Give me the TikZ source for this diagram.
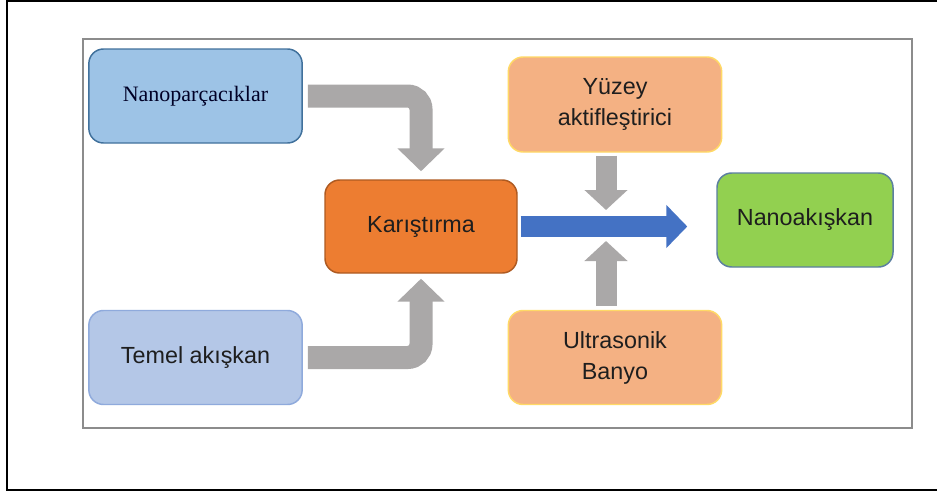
\documentclass[tikz,border=0pt]{standalone}
\usepackage{fontspec}
\setmainfont{Liberation Sans}
\newfontfamily\npfont{Liberation Serif}
\usetikzlibrary{arrows.meta}

\definecolor{npblue}{RGB}{157,195,230}
\definecolor{npline}{RGB}{65,113,156}
\definecolor{tbblue}{RGB}{180,199,231}
\definecolor{tbline}{RGB}{143,170,220}
\definecolor{mixorange}{RGB}{237,125,49}
\definecolor{mixline}{RGB}{174,90,33}
\definecolor{peach}{RGB}{244,177,131}
\definecolor{peachline}{RGB}{255,217,102}
\definecolor{nkgreen}{RGB}{146,208,80}
\definecolor{nkline}{RGB}{91,127,160}
\definecolor{pipegray}{RGB}{170,168,168}
\definecolor{pipeblue}{RGB}{68,114,196}
\definecolor{framegray}{RGB}{140,140,140}
\definecolor{textdark}{RGB}{30,30,30}

\tikzset{every picture/.style={line width=0.75pt}}
\tikzset{
  box/.style={rectangle, rounded corners=11pt, line width=1.1pt, minimum width=160pt, minimum height=70.5pt, align=center, inner sep=0pt, text=textdark, font=\fontsize{17.5}{23.25}\selectfont},
  graypipe/.style={draw=pipegray, line width=17.25pt, rounded corners=10pt, -{Triangle[width=34.5pt,length=17.25pt]}},
  graystem/.style={draw=pipegray, line width=15.75pt, -{Triangle[width=31.5pt,length=15pt]}},
  bluepipe/.style={draw=pipeblue, line width=15.75pt, -{Triangle[width=31.5pt,length=15.75pt]}},
}

\begin{document}
\begin{tikzpicture}[x=0.75pt,y=0.75pt,yscale=-1,xscale=1]
%set diagram left start at 0, and has height of 496
\path[fill=white, use as bounding box] (0,0) rectangle (937,496);

%Shape: Outer Frame
\draw[line width=1.5pt] (937,1) -- (7,1) -- (7,490) -- (937,490);
%Shape: Inner Frame
\draw[draw=framegray, line width=1.3pt] (83,39) rectangle (912,428);

% Rounded Rect Nodes
\node[box, fill=npblue, draw=npline, font=\npfont\fontsize{16.5}{20}\selectfont, text=black!85!blue] (np) at (195.5,96) {Nanoparçacıklar};
\node[box, fill=tbblue, draw=tbline] (tb) at (195.5,357.5) {Temel akışkan};
\node[box, fill=mixorange, draw=mixline, minimum width=144pt, minimum height=69.75pt] (mix) at (421,226.5) {Karıştırma};
\node[box, fill=peach, draw=peachline, minimum height=71.25pt] (yz) at (615,104.5) {Yüzey\\aktifleştirici};
\node[box, fill=peach, draw=peachline] (ub) at (615,357.5) {Ultrasonik\\Banyo};
\node[box, fill=nkgreen, draw=nkline, minimum width=132pt] (nk) at (805,220) {Nanoakışkan};

%Free ends of the small arrows
\coordinate (jtop) at (606,210);
\coordinate (jbot) at (606,241);

%Block Arrows
\draw[graypipe, shorten <=3.75pt, shorten >=6pt] (np.east) -| (mix.north);
\draw[graypipe, shorten <=3.75pt, shorten >=3.75pt] (tb.east) -| (mix.south);
\draw[bluepipe, shorten <=2.25pt, shorten >=21.75pt] (mix.east) -- (mix.east -| nk.west);
\draw[graystem, shorten <=2.25pt] (yz.south -| jtop) -- (jtop);
\draw[graystem, shorten <=3pt] (ub.north -| jbot) -- (jbot);

\end{tikzpicture}
\end{document}
